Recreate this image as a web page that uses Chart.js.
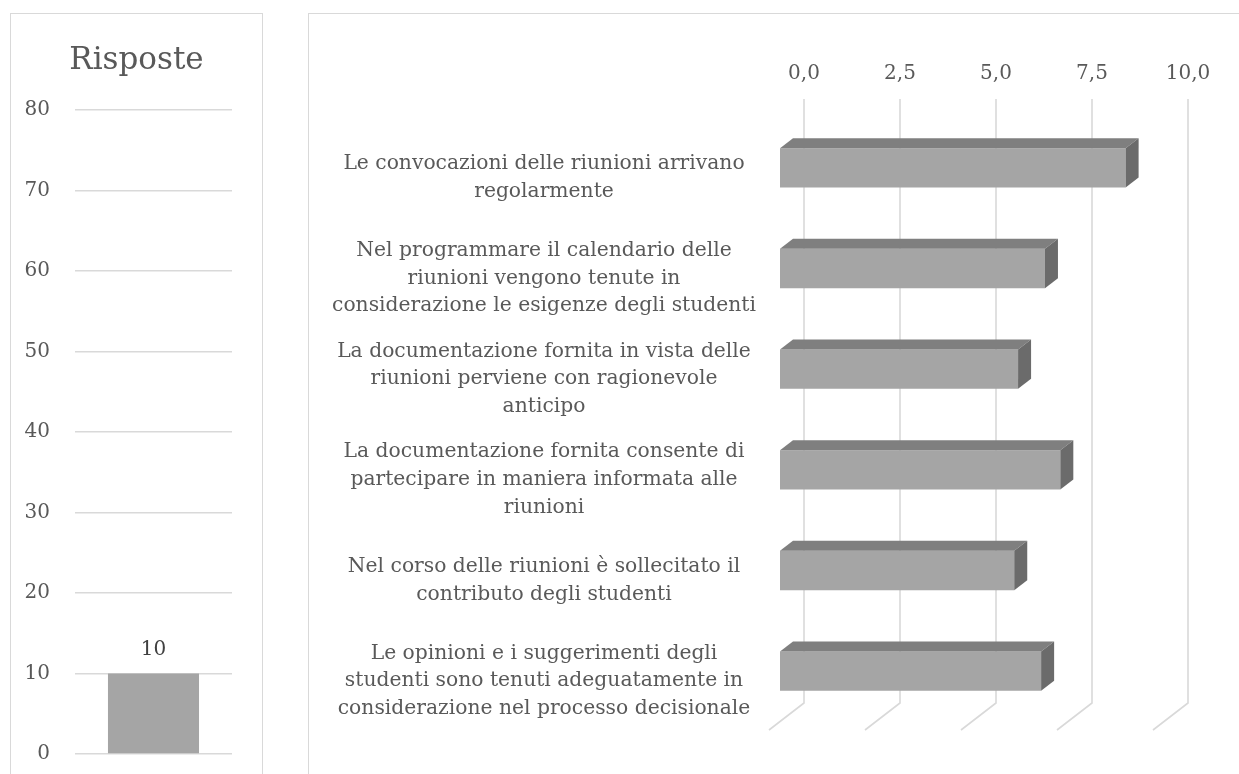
<!DOCTYPE html>
<html>
<head>
<meta charset="utf-8">
<script src="https://cdn.jsdelivr.net/npm/chart.js@4.4.1/dist/chart.umd.min.js"></script>
<style>
    body { margin: 0; background: #fff; width: 1239px; height: 774px; overflow: hidden; position: relative; }
    .pane { position: absolute; border: 1px solid #d9d9d9; background: #fff; }
    #left-pane { left: 10px; top: 13px; width: 251px; height: 800px; }
    #right-pane { left: 308px; top: 13px; width: 960px; height: 800px; }
    canvas { display: block; }
</style>
</head>
<body>
<div class="pane" id="left-pane"><canvas id="respChart" width="251" height="760"></canvas></div>
<div class="pane" id="right-pane"><canvas id="scoreChart" width="930" height="760"></canvas></div>

<script>
// dati
var respLabels = [''];
var respValues = [10];
var respTicks = [0, 10, 20, 30, 40, 50, 60, 70, 80];

var questions = [
    ['Le convocazioni delle riunioni arrivano', 'regolarmente'],
    ['Nel programmare il calendario delle', 'riunioni vengono tenute in', 'considerazione le esigenze degli studenti'],
    ['La documentazione fornita in vista delle', 'riunioni perviene con ragionevole', 'anticipo'],
    ['La documentazione fornita consente di', 'partecipare in maniera informata alle', 'riunioni'],
    ['Nel corso delle riunioni è sollecitato il', 'contributo degli studenti'],
    ['Le opinioni e i suggerimenti degli', 'studenti sono tenuti adeguatamente in', 'considerazione nel processo decisionale']
];
var scores = [9.0, 6.9, 6.2, 7.3, 6.1, 6.8];
var scoreTicks = [0, 2.5, 5, 7.5, 10];

var FONT = 'DejaVu Serif';
var TXT = '#595959';
var GRID = '#d9d9d9';
var LABEL_SIZE = 20.3;

// profondità 3D
var WALL = { dx: 24, dy: -18.5 };
var BAR = { dx: 13, dy: -10 };
var FLOOR = { dx: -11, dy: 8.5 };

// grafico Risposte
var valueLabel = {
    id: 'valueLabel',
    afterDatasetsDraw: function(chart) {
        var ctx = chart.ctx;
        ctx.save();
        ctx.font = '20px "' + FONT + '"';
        ctx.fillStyle = '#404040';
        ctx.textAlign = 'center';
        ctx.textBaseline = 'middle';
        chart.getDatasetMeta(0).data.forEach(function(bar, i) {
            ctx.fillText(String(respValues[i]), bar.x, bar.y - 24);
        });
        ctx.restore();
    }
};

new Chart(document.getElementById('respChart'), {
    type: 'bar',
    data: {
        labels: respLabels,
        datasets: [{ data: respValues, backgroundColor: '#a5a5a5', barPercentage: 0.58, categoryPercentage: 1 }]
    },
    options: {
        responsive: false,
        animation: false,
        layout: { padding: { left: 0, right: 0, top: 0, bottom: 20 } },
        plugins: {
            legend: { display: false },
            tooltip: { enabled: false },
            title: {
                display: true,
                text: 'Risposte',
                color: TXT,
                font: { family: FONT, size: 31, weight: 'normal', lineHeight: 1.2 },
                padding: { top: 28, bottom: 31 }
            }
        },
        scales: {
            x: { display: false },
            y: {
                min: 0,
                max: 80,
                afterBuildTicks: function(scale) {
                    scale.ticks = respTicks.map(function(v) { return { value: v }; });
                },
                afterFit: function(scale) {
                    scale.width = 64;
                    scale.paddingTop = 0;
                    scale.paddingBottom = 0;
                },
                ticks: { color: TXT, font: { family: FONT, size: 20 }, padding: 25 },
                grid: { color: GRID, lineWidth: 1.5, drawTicks: false },
                border: { display: false }
            },
            // spazio vuoto a destra, così il titolo resta centrato nel riquadro
            spacer: {
                axis: 'y',
                position: 'right',
                ticks: { display: false },
                grid: { display: false },
                border: { display: false },
                afterFit: function(scale) {
                    scale.width = 30;
                    scale.paddingTop = 0;
                    scale.paddingBottom = 0;
                }
            }
        }
    },
    plugins: [valueLabel]
});

// grafico domande (barre 3D)
var grid3d = {
    id: 'grid3d',
    beforeDatasetsDraw: function(chart) {
        var ctx = chart.ctx, area = chart.chartArea, xs = chart.scales.x;
        ctx.save();
        ctx.strokeStyle = GRID;
        ctx.lineWidth = 1.6;
        scoreTicks.forEach(function(v) {
            var px = xs.getPixelForValue(v);
            ctx.beginPath();
            ctx.moveTo(px + WALL.dx, area.top + WALL.dy);
            ctx.lineTo(px + WALL.dx, area.bottom + WALL.dy);
            ctx.lineTo(px + FLOOR.dx, area.bottom + FLOOR.dy);
            ctx.stroke();
        });
        ctx.restore();
    }
};

var bar3d = {
    id: 'bar3d',
    afterDatasetsDraw: function(chart) {
        var ctx = chart.ctx;
        ctx.save();
        chart.getDatasetMeta(0).data.forEach(function(bar) {
            var top = bar.y - bar.height / 2, bot = bar.y + bar.height / 2;
            ctx.fillStyle = '#7f7f7f';
            ctx.beginPath();
            ctx.moveTo(bar.base, top);
            ctx.lineTo(bar.x, top);
            ctx.lineTo(bar.x + BAR.dx, top + BAR.dy);
            ctx.lineTo(bar.base + BAR.dx, top + BAR.dy);
            ctx.closePath();
            ctx.fill();
            ctx.fillStyle = '#6b6b6b';
            ctx.beginPath();
            ctx.moveTo(bar.x, top);
            ctx.lineTo(bar.x + BAR.dx, top + BAR.dy);
            ctx.lineTo(bar.x + BAR.dx, bot + BAR.dy);
            ctx.lineTo(bar.x, bot);
            ctx.closePath();
            ctx.fill();
        });
        ctx.restore();
    }
};

// larghezza della riga più lunga, per centrare le etichette
var mctx = document.createElement('canvas').getContext('2d');
mctx.font = LABEL_SIZE + 'px "' + FONT + '"';
var widest = 0;
questions.forEach(function(q) {
    q.forEach(function(line) { widest = Math.max(widest, mctx.measureText(line).width); });
});
var labelCenter = 235; // centro delle etichette nel canvas
var labelPad = 471 - labelCenter - widest / 2;

new Chart(document.getElementById('scoreChart'), {
    type: 'bar',
    data: {
        labels: questions,
        datasets: [{ data: scores, backgroundColor: '#a5a5a5', barPercentage: 0.39, categoryPercentage: 1 }]
    },
    options: {
        indexAxis: 'y',
        responsive: false,
        animation: false,
        layout: { padding: { left: 0, right: 75, top: 0, bottom: 52.5 } },
        plugins: {
            legend: { display: false },
            tooltip: { enabled: false }
        },
        scales: {
            x: {
                position: 'top',
                min: 0,
                max: 10,
                afterBuildTicks: function(scale) {
                    scale.ticks = scoreTicks.map(function(v) { return { value: v }; });
                },
                afterFit: function(scale) { scale.height = 103.5; },
                ticks: {
                    color: TXT,
                    font: { family: FONT, size: 20 },
                    padding: 24,
                    labelOffset: WALL.dx,
                    callback: function(v) { return v.toFixed(1).replace('.', ','); }
                },
                grid: { display: false },
                border: { display: false }
            },
            y: {
                afterFit: function(scale) { scale.width = 471; },
                ticks: {
                    color: TXT,
                    font: { family: FONT, size: LABEL_SIZE, lineHeight: 1.36 },
                    crossAlign: 'center',
                    padding: labelPad,
                    labelOffset: 10
                },
                grid: { display: false, drawTicks: false },
                border: { display: false }
            }
        }
    },
    plugins: [grid3d, bar3d]
});
</script>
</body>
</html>
